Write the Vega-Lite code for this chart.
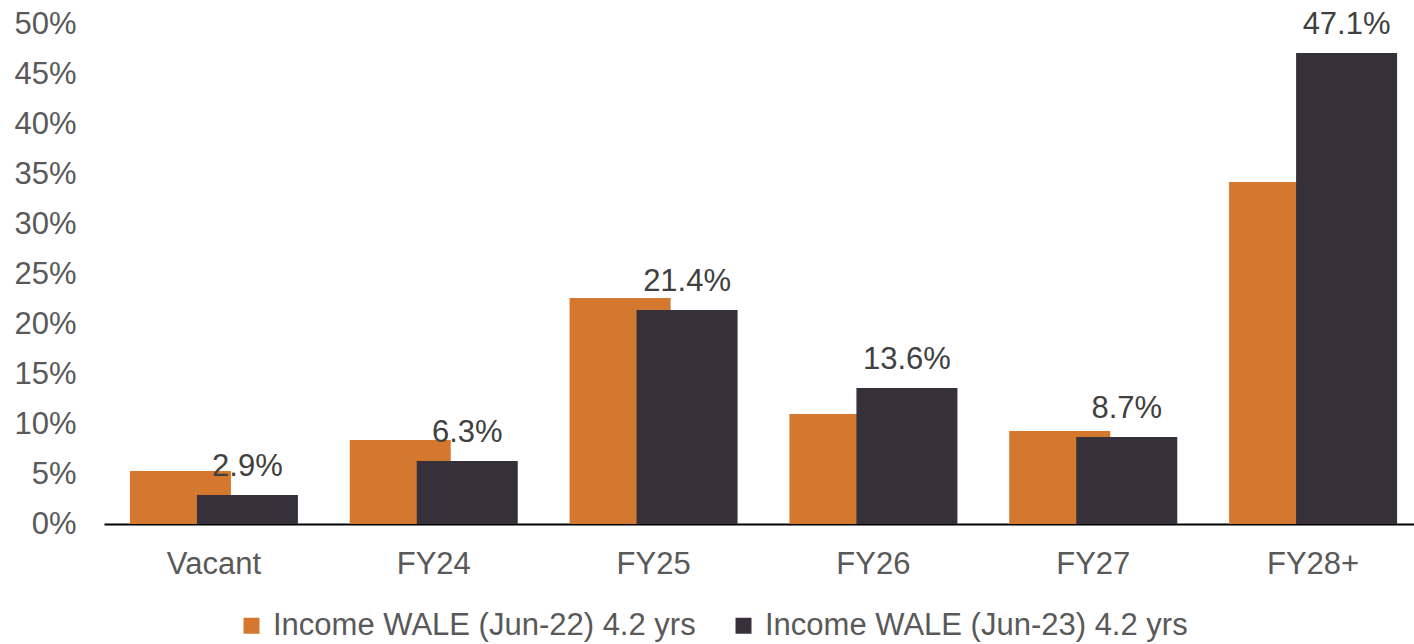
{
  "$schema": "https://vega.github.io/schema/vega-lite/v6.json",
  "autosize": "none",
  "padding": {"left": 104, "top": 24, "right": 0, "bottom": 120},
  "width": 1310,
  "height": 500,
  "background": "white",
  "config": {"view": {"stroke": null}, "font": "Liberation Sans"},
  "data": {"values": [
    {"cat": "Vacant", "series": "Income WALE (Jun-22) 4.2 yrs", "value": 0.053},
    {"cat": "FY24", "series": "Income WALE (Jun-22) 4.2 yrs", "value": 0.084},
    {"cat": "FY25", "series": "Income WALE (Jun-22) 4.2 yrs", "value": 0.226},
    {"cat": "FY26", "series": "Income WALE (Jun-22) 4.2 yrs", "value": 0.110},
    {"cat": "FY27", "series": "Income WALE (Jun-22) 4.2 yrs", "value": 0.093},
    {"cat": "FY28+", "series": "Income WALE (Jun-22) 4.2 yrs", "value": 0.342},
    {"cat": "Vacant", "series": "Income WALE (Jun-23) 4.2 yrs", "value": 0.029},
    {"cat": "FY24", "series": "Income WALE (Jun-23) 4.2 yrs", "value": 0.063},
    {"cat": "FY25", "series": "Income WALE (Jun-23) 4.2 yrs", "value": 0.214},
    {"cat": "FY26", "series": "Income WALE (Jun-23) 4.2 yrs", "value": 0.136},
    {"cat": "FY27", "series": "Income WALE (Jun-23) 4.2 yrs", "value": 0.087},
    {"cat": "FY28+", "series": "Income WALE (Jun-23) 4.2 yrs", "value": 0.471}
  ]},
  "encoding": {
    "x": {
      "field": "cat", "type": "nominal",
      "sort": ["Vacant", "FY24", "FY25", "FY26", "FY27", "FY28+"],
      "scale": {"range": [0, 1319], "paddingInner": 0, "paddingOuter": 0},
      "axis": {"title": null, "labelAngle": 0, "ticks": false, "domainColor": "#000000", "domainWidth": 2,
               "labelFontSize": 31, "labelColor": "#595959", "labelFont": "Liberation Sans", "labelPadding": 25}
    },
    "y": {
      "field": "value", "type": "quantitative",
      "scale": {"domain": [0, 0.5], "nice": false},
      "axis": {"title": null, "format": ".0%", "values": [0, 0.05, 0.1, 0.15, 0.2, 0.25, 0.3, 0.35, 0.4, 0.45, 0.5],
               "domain": false, "ticks": false, "grid": false, "labelFontSize": 31, "labelColor": "#595959",
               "labelFont": "Liberation Sans", "labelPadding": 28}
    },
    "color": {
      "field": "series", "type": "nominal",
      "scale": {"domain": ["Income WALE (Jun-22) 4.2 yrs", "Income WALE (Jun-23) 4.2 yrs"], "range": ["#D4782F", "#36303B"]},
      "legend": {"title": null, "orient": "none", "legendX": 132, "legendY": 586, "direction": "horizontal",
                 "symbolType": "square", "symbolSize": 256, "symbolStrokeWidth": 0, "labelFontSize": 31,
                 "labelFont": "Liberation Sans", "labelColor": "#595959", "labelOffset": 6, "columnPadding": 32,
                 "labelLimit": 0}
    }
  },
  "layer": [
    {
      "transform": [{"filter": "datum.series === 'Income WALE (Jun-22) 4.2 yrs'"}],
      "mark": {"type": "bar", "width": 101, "xOffset": -33.5}
    },
    {
      "transform": [{"filter": "datum.series === 'Income WALE (Jun-23) 4.2 yrs'"}],
      "mark": {"type": "bar", "width": 101, "xOffset": 33.5}
    },
    {
      "transform": [{"filter": "datum.series === 'Income WALE (Jun-23) 4.2 yrs'"}],
      "mark": {"type": "text", "dx": 33.5, "dy": -12, "baseline": "bottom", "fontSize": 31, "font": "Liberation Sans"},
      "encoding": {
        "text": {"field": "value", "type": "quantitative", "format": ".1%"},
        "color": {"value": "#404040"}
      }
    }
  ]
}
